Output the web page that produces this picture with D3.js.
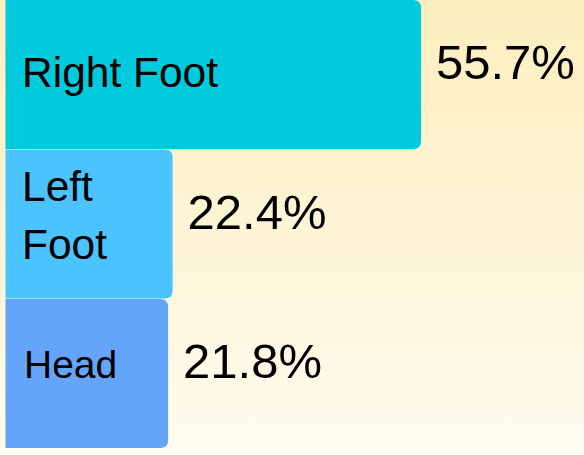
<!doctype html>
<html>
<head>
<meta charset="UTF-8">
<title>Injury location</title>
<script src="https://d3js.org/d3.v7.min.js"></script>
<style>
  html, body { margin: 0; padding: 0; background: #fff; }
  svg { display: block; }
</style>
</head>
<body>
<svg width="584" height="455" id="chart"></svg>
<script>
// data
var categories = ["Right Foot", "Left Foot", "Head"];
var shares = [55.7, 22.4, 21.8];
var labelLines = [["Right Foot"], ["Left", "Foot"], ["Head"]];
var colors = ["#00cadc", "#4bc3fe", "#64a5f9"];

var W = 584, H = 455;
var svg = d3.select("#chart");

// background gradient
var defs = svg.append("defs");
var grad = defs.append("linearGradient").attr("id", "bg")
  .attr("x1", 0).attr("y1", 0).attr("x2", 0).attr("y2", 1);
grad.append("stop").attr("offset", "0%").attr("stop-color", "#fdeebd");
grad.append("stop").attr("offset", "100%").attr("stop-color", "#fffcf0");
svg.append("rect").attr("width", W).attr("height", H).attr("fill", "url(#bg)");

var x = d3.scaleLinear().domain([0, 55.7]).range([5.5, 421]);
var y = d3.scaleBand().domain(categories).range([0, 448]).paddingInner(0.004);

var r = 8;
function barPath(d, i) {
  var x0 = x(0), x1 = x(shares[i]), y0 = y(d), y1 = y(d) + y.bandwidth();
  return "M" + x0 + "," + y0 +
    "H" + (x1 - r) +
    "Q" + x1 + "," + y0 + " " + x1 + "," + (y0 + r) +
    "V" + (y1 - r) +
    "Q" + x1 + "," + y1 + " " + (x1 - r) + "," + y1 +
    "H" + x0 + "Z";
}

svg.selectAll("path.bar").data(categories).enter().append("path")
  .attr("class", "bar")
  .attr("d", barPath)
  .attr("fill", function(d, i) { return colors[i]; });

// category labels inside the bars (auto-fit sizes differ per bar)
var labelBase = [12.8, 0, 4.3];
var labelX = [22, 22, 24];
var labelSize = [42.5, 42.5, 39];
svg.selectAll("text.label").data(categories).enter().append("text")
  .attr("class", "label")
  .attr("x", function(d, i) { return labelX[i]; })
  .attr("y", function(d, i) {
    var c = y(d) + y.bandwidth() / 2;
    if (labelLines[i].length > 1) return c - 23.5;
    return c + labelBase[i];
  })
  .attr("font-family", "'Liberation Sans', Arial, Helvetica, sans-serif")
  .attr("font-size", function(d, i) { return labelSize[i]; })
  .attr("fill", "#000")
  .each(function(d, i) {
    var t = d3.select(this);
    labelLines[i].forEach(function(line, k) {
      t.append("tspan").attr("x", labelX[i]).attr("dy", k === 0 ? 0 : 58.6).text(line);
    });
  });

// value labels
svg.selectAll("text.value").data(categories).enter().append("text")
  .attr("class", "value")
  .attr("x", function(d, i) { return x(shares[i]) + 15; })
  .attr("y", function(d) { return y(d) + y.bandwidth() / 2 + 4.5; })
  .attr("font-family", "'Liberation Sans', Arial, Helvetica, sans-serif")
  .attr("font-size", 49)
  .attr("fill", "#000")
  .text(function(d, i) { return d3.format(".1f")(shares[i]) + "%"; });
</script>
</body>
</html>
